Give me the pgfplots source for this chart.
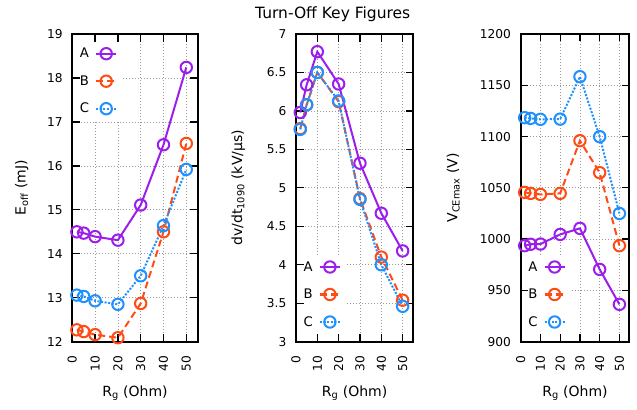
\documentclass[border=0pt]{standalone}
\usepackage{fontspec}
\setmainfont{DejaVu Sans}
\usepackage{pgfplots}
\pgfplotsset{compat=1.18}
\definecolor{cA}{RGB}{155,30,235}
\definecolor{cB}{RGB}{255,75,20}
\definecolor{cC}{RGB}{30,144,255}
\newcommand{\ticksize}{\fontsize{12.2bp}{14bp}\selectfont}
\newcommand{\labsize}{\fontsize{14bp}{16bp}\selectfont}
\newcommand{\legsize}{\fontsize{13.2bp}{15bp}\selectfont}
\pgfplotsset{
  panel/.style={
    scale only axis, anchor=south west, height=307.7bp,
    xmin=0, xmax=55, xtick={0,10,20,30,40,50},
    tick align=inside, major tick length=7.5bp,
    axis line style={line width=1.8bp},
    every tick/.append style={black, line width=1.3bp},
    grid=major,
    major grid style={gray!80, line width=0.7bp, dash pattern=on 0.8bp off 2.2bp},
    tick label style={font=\ticksize},
    /pgf/number format/assume math mode=true,
    /pgf/number format/1000 sep={},
    xticklabel style={rotate=90, anchor=east, inner sep=0pt},
    xticklabel shift=14bp,
    yticklabel style={anchor=east, inner sep=0pt},
    yticklabel shift=9.5bp,
    label style={font=\labsize},
    xlabel={R\textsubscript{g} (Ohm)},
    xlabel style={at={(axis description cs:0.5,-0.1667)}, anchor=center},
    legend plot pos=right,
    legend cell align=left,
    legend style={draw=none, fill=white, font=\legsize, inner xsep=0pt, inner ysep=0pt,
      row sep=3.5bp, nodes={inner sep=0pt}},
    legend image code/.code={%
      \path[draw=none,fill=none] (-7bp,-12bp) rectangle (25bp,12bp);
      \draw[mark repeat=2,mark phase=2,##1] plot coordinates {(0bp,0bp) (10bp,0bp) (20bp,0bp)};},
  },
  legTL/.style={legend style={at={(axis description cs:0,1)}, anchor=north west, xshift=7.5bp, yshift=-7.5bp}},
  legBL/.style={legend style={at={(axis description cs:0,0)}, anchor=south west, xshift=7.5bp, yshift=7.5bp}},
  sA/.style={cA, solid, line width=2bp, mark=o, mark size=5.7bp, mark options={solid}},
  sB/.style={cB, dash pattern=on 7bp off 4bp, line width=2bp, mark=o, mark size=5.7bp, mark options={solid}},
  sC/.style={cC, dash pattern=on 2bp off 1.6bp, line width=2bp, mark=o, mark size=5.7bp, mark options={solid}},
}
\begin{document}
\begin{tikzpicture}
\useasboundingbox (0,0) rectangle (637bp,410bp);
\node[font=\fontsize{15.5bp}{18bp}\selectfont, anchor=base] at (332.7bp,391.7bp) {Turn-Off Key Figures};

% Panel 1
\begin{axis}[panel, legTL, at={(72.3bp,68.3bp)}, width=125.4bp,
  ymin=12, ymax=19, ytick={12,13,...,19},
  ylabel={E\textsubscript{off} (mJ)},
  ylabel style={at={(axis description cs:-0.4035,0.5)}, anchor=center}]
\addplot[sA] coordinates {(2,14.50) (5,14.47) (10,14.39) (20,14.31) (30,15.11) (40,16.48) (50,18.24)};
\addlegendentry{A}
\addplot[sB] coordinates {(2,12.27) (5,12.23) (10,12.16) (20,12.09) (30,12.87) (40,14.50) (50,16.51)};
\addlegendentry{B}
\addplot[sC] coordinates {(2,13.06) (5,13.03) (10,12.93) (20,12.85) (30,13.50) (40,14.64) (50,15.92)};
\addlegendentry{C}
\end{axis}

% Panel 2
\begin{axis}[panel, legBL, at={(296bp,68.3bp)}, width=117.3bp,
  ymin=3, ymax=7, ytick={3,3.5,...,7},
  ylabel={dv/dt\textsubscript{1090} (kV/µs)},
  ylabel style={at={(axis description cs:-0.492,0.5)}, anchor=center}]
\addplot[sA] coordinates {(2,5.98) (5,6.34) (10,6.77) (20,6.35) (30,5.32) (40,4.67) (50,4.18)};
\addlegendentry{A}
\addplot[sB] coordinates {(2,5.77) (5,6.08) (10,6.50) (20,6.12) (30,4.86) (40,4.10) (50,3.54)};
\addlegendentry{B}
\addplot[sC] coordinates {(2,5.76) (5,6.08) (10,6.50) (20,6.13) (30,4.85) (40,4.00) (50,3.46)};
\addlegendentry{C}
\end{axis}

% Panel 3
\begin{axis}[panel, legBL, at={(520.7bp,68.3bp)}, width=108.6bp,
  ymin=900, ymax=1200, ytick={900,950,...,1200},
  ylabel={V\textsubscript{CEmax} (V)},
  ylabel style={at={(axis description cs:-0.6206,0.5)}, anchor=center}]
\addplot[sA] coordinates {(2,993.6) (5,995.0) (10,995.2) (20,1004.6) (30,1010.5) (40,970.5) (50,936.4)};
\addlegendentry{A}
\addplot[sB] coordinates {(2,1045.6) (5,1044.6) (10,1043.6) (20,1044.6) (30,1096.0) (40,1064.8) (50,993.6)};
\addlegendentry{B}
\addplot[sC] coordinates {(2,1118.4) (5,1117.7) (10,1116.8) (20,1117.0) (30,1158.4) (40,1099.9) (50,1025.0)};
\addlegendentry{C}
\end{axis}
\end{tikzpicture}
\end{document}
